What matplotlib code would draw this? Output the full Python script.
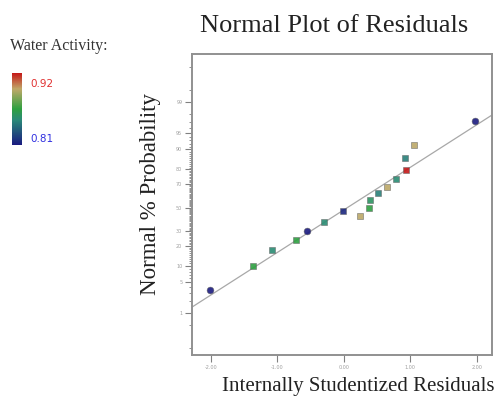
import math
import numpy as np
import matplotlib
matplotlib.use("Agg")
import matplotlib.pyplot as plt
from matplotlib.colors import LinearSegmentedColormap, Normalize
from matplotlib.cm import ScalarMappable

# ---- data ----
residuals = [-2.01, -1.36, -1.07, -0.71, -0.55, -0.30, 0.245, -0.015, 0.385,
             0.395, 0.51, 0.65, 0.78, 0.94, 0.92, 1.05, 1.97]
probability = [3.5, 10.0, 17.5, 23.8, 30.3, 37.3, 42.6, 47.2, 49.3,
               56.5, 62.3, 67.6, 73.4, 79.5, 86.0, 91.5, 97.2]
water_activity = [0.81, 0.865, 0.85, 0.865, 0.81, 0.85, 0.895, 0.815, 0.865,
                  0.855, 0.845, 0.895, 0.85, 0.92, 0.845, 0.895, 0.81]
markers = ['o', 's', 's', 's', 'o', 's', 's', 's', 's',
           's', 's', 's', 's', 's', 's', 's', 'o']
fit_x = [-2.28, 2.23]
fit_p = [1.44, 97.9]
x_ticks = [-2.0, -1.0, 0.0, 1.0, 2.0]
x_ticklabels = ["-2.00", "-1.00", "0.00", "1.00", "2.00"]
y_ticks = [1, 5, 10, 20, 30, 50, 70, 80, 90, 95, 99]
y_ticklabels = ["1", "5", "10", "20", "30", "50", "70", "80", "90", "95", "99"]
y_minor = list(range(2, 99)) + [0.1, 0.5, 99.5, 99.9]
wa_min, wa_max = 0.81, 0.92

# ---- probability scale helpers ----
_erf = np.vectorize(math.erf)

def _cdf(z):
    z = np.asarray(z, dtype=float)
    return 50.0 * (1.0 + _erf(z / math.sqrt(2.0)))

def _probit(p):
    p = np.clip(np.asarray(p, dtype=float), 1e-9, 100 - 1e-9)
    lo = np.full(p.shape, -9.0)
    hi = np.full(p.shape, 9.0)
    for _ in range(60):
        mid = 0.5 * (lo + hi)
        below = _cdf(mid) < p
        lo = np.where(below, mid, lo)
        hi = np.where(below, hi, mid)
    return 0.5 * (lo + hi)

cmap = LinearSegmentedColormap.from_list(
    "wa", [(0.0, "#1a1a80"), (0.35, "#2a8a78"), (0.5, "#2ea040"),
           (0.78, "#c0a868"), (1.0, "#c41818")])
norm = Normalize(wa_min, wa_max)

fig = plt.figure(figsize=(4.98, 3.98), dpi=100)
ax = fig.add_axes([192 / 498, 1 - 355 / 398, 300 / 498, 301 / 398])
ax.set_yscale("function", functions=(_probit, _cdf))
ax.set_xlim(-2.28, 2.23)
ax.set_ylim(0.06, 99.963)

ax.plot(fit_x, fit_p, color="#a8a8a8", lw=0.9, zorder=2)
for x, p, w, m in zip(residuals, probability, water_activity, markers):
    ax.scatter([x], [p], marker=m, s=20 if m == 's' else 24,
               color=cmap(norm(w)), edgecolor="#666666", linewidth=0.4,
               alpha=0.9, zorder=3)

for s in ax.spines.values():
    s.set_color("#909090")
    s.set_linewidth(1.4)

ax.set_xticks(x_ticks)
ax.set_xticklabels(x_ticklabels)
ax.set_yticks(y_ticks)
ax.set_yticklabels(y_ticklabels)
ax.set_yticks(y_minor, minor=True)
ax.tick_params(axis="both", which="major", direction="out", length=5, width=0.8,
               color="#808080", labelsize=3.5, labelcolor="#a0a0a0", pad=2)
ax.tick_params(axis="y", which="minor", direction="out", length=2.5, width=0.6,
               color="#808080")
ax.tick_params(axis="x", which="minor", length=0)

serif = ["Liberation Serif", "DejaVu Serif"]
fig.text(334 / 498, 1 - 26 / 398, "Normal Plot of Residuals", family=serif,
         fontsize=19, ha="center", va="center", color="#222222")
fig.text(150 / 498, 1 - 194 / 398, "Normal % Probability", family=serif,
         fontsize=16.5, rotation=90, ha="center", va="center", color="#222222")
fig.text(222 / 498, 1 - 386 / 398, "Internally Studentized Residuals", family=serif,
         fontsize=15, ha="left", va="center", color="#222222")
fig.text(10 / 498, 1 - 46 / 398, "Water Activity:", family=serif,
         fontsize=11.5, ha="left", va="center", color="#333333")

cax = fig.add_axes([12 / 498, 1 - 145 / 398, 10 / 498, 72 / 398])
cb = fig.colorbar(ScalarMappable(norm=norm, cmap=cmap), cax=cax)
cb.outline.set_visible(False)
cb.set_ticks([])
fig.text(30 / 498, 1 - 84 / 398, "0.92", fontsize=7.5, color="#e03030",
         ha="left", va="center")
fig.text(30 / 498, 1 - 139 / 398, "0.81", fontsize=7.5, color="#3030e0",
         ha="left", va="center")

fig.savefig("out.png", dpi=100)
